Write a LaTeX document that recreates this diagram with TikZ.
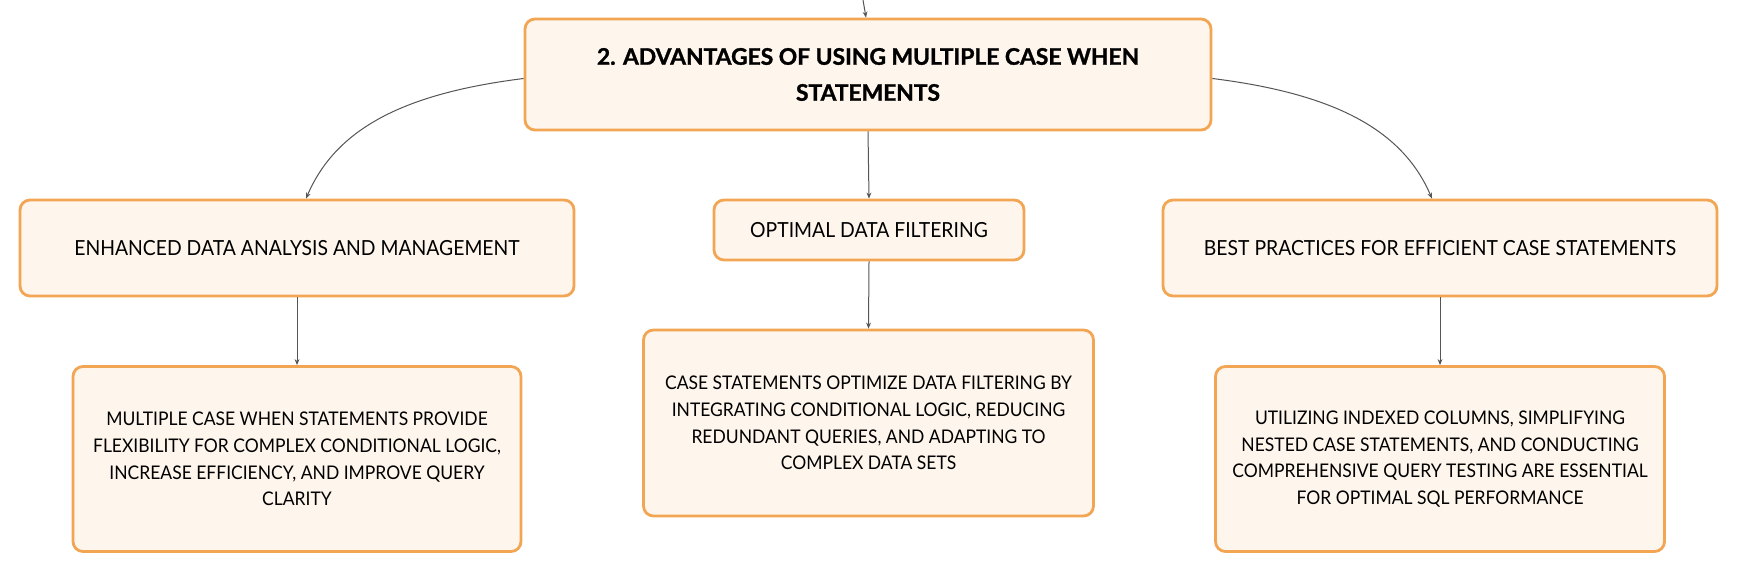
\documentclass[tikz,border=0pt]{standalone}
\usepackage{fontspec}
\setmainfont{Lato}[FakeStretch=0.93]
\newfontfamily\titlefont{Lato}[BoldFeatures={FakeBold=1.3}]
\usetikzlibrary{arrows.meta,calc}
\definecolor{boxborder}{HTML}{F2A552}
\definecolor{boxfill}{HTML}{FEF5EC}
\definecolor{linkgray}{HTML}{555555}
\begin{document}
\begin{tikzpicture}[x=0.5pt,y=-0.5pt,
  box/.style={draw=boxborder, fill=boxfill, line width=1.4pt, rounded corners=5pt,
    align=center, inner sep=0pt, font=\fontsize{9.4}{13.35}\selectfont},
  topicbox/.style={box, font=\fontsize{10.4}{14}\selectfont},
  titlebox/.style={box, font=\titlefont\fontsize{11.4}{18}\selectfont\bfseries},
  link/.style={draw=linkgray, line width=0.5pt, -{Stealth[length=3pt,width=2.4pt]}}]
\useasboundingbox (0,0) rectangle (1738,573);
\fill[white] (0,0) rectangle (1738,573);

\node[titlebox, minimum width=343pt, minimum height=55.5pt] (top) at (868,74.5)
  {2. ADVANTAGES OF USING MULTIPLE CASE WHEN\\STATEMENTS};
\node[topicbox, minimum width=277pt, minimum height=48pt] (l1) at (297,248)
  {ENHANCED DATA ANALYSIS AND MANAGEMENT};
\node[topicbox, minimum width=155pt, minimum height=30pt] (m1) at (869,230)
  {OPTIMAL DATA FILTERING};
\node[topicbox, minimum width=277pt, minimum height=48pt] (r1) at (1440,248)
  {BEST PRACTICES FOR EFFICIENT CASE STATEMENTS};
\node[box, minimum width=224pt, minimum height=92.5pt] (l2) at (297,459)
  {MULTIPLE CASE WHEN STATEMENTS PROVIDE\\FLEXIBILITY FOR COMPLEX CONDITIONAL LOGIC,\\INCREASE EFFICIENCY, AND IMPROVE QUERY\\CLARITY};
\node[box, minimum width=225pt, minimum height=93pt] (m2) at (868.5,423)
  {CASE STATEMENTS OPTIMIZE DATA FILTERING BY\\INTEGRATING CONDITIONAL LOGIC, REDUCING\\REDUNDANT QUERIES, AND ADAPTING TO\\COMPLEX DATA SETS};
\node[box, minimum width=224.5pt, minimum height=92.5pt] (r2) at (1440,459)
  {UTILIZING INDEXED COLUMNS, SIMPLIFYING\\NESTED CASE STATEMENTS, AND CONDUCTING\\COMPREHENSIVE QUERY TESTING ARE ESSENTIAL\\FOR OPTIMAL SQL PERFORMANCE};

\coordinate (src) at (863,0);
\draw[link] (src) -- ($(top.north)+(-2,0)$);
\draw[link] ($(top.west)+(0,4)$) .. controls +(-120,15) and +(30,-70) .. ($(l1.north)+(9,0)$);
\draw[link] ($(top.east)+(0,4)$) .. controls +(120,15) and +(-30,-70) .. ($(r1.north)+(-8,0)$);
\draw[link] (top.south) -- (m1.north);
\draw[link] (l1.south) -- (l2.north);
\draw[link] (m1.south) -- (m2.north);
\draw[link] (r1.south) -- (r2.north);
\end{tikzpicture}
\end{document}
